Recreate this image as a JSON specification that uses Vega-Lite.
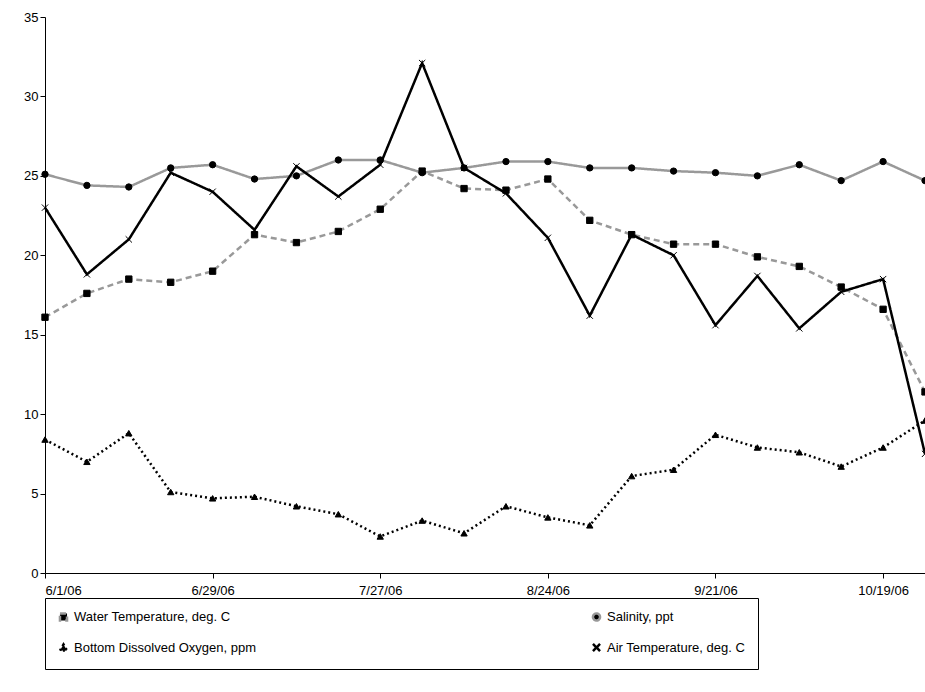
{
  "$schema": "https://vega.github.io/schema/vega-lite/v6.json",
  "width": 880,
  "height": 556,
  "autosize": "none",
  "padding": {"left": 45, "top": 17, "right": 0, "bottom": 119},
  "background": "white",
  "config": {"font": "Liberation Sans", "view": {"stroke": null}},
  "data": {"values": [
    {"date": "2006-06-01", "wt": 16.1, "sal": 25.1, "do": 8.4, "air": 23.0},
    {"date": "2006-06-08", "wt": 17.6, "sal": 24.4, "do": 7.0, "air": 18.8},
    {"date": "2006-06-15", "wt": 18.5, "sal": 24.3, "do": 8.8, "air": 21.0},
    {"date": "2006-06-22", "wt": 18.3, "sal": 25.5, "do": 5.1, "air": 25.2},
    {"date": "2006-06-29", "wt": 19.0, "sal": 25.7, "do": 4.7, "air": 24.0},
    {"date": "2006-07-06", "wt": 21.3, "sal": 24.8, "do": 4.8, "air": 21.6},
    {"date": "2006-07-13", "wt": 20.8, "sal": 25.0, "do": 4.2, "air": 25.6},
    {"date": "2006-07-20", "wt": 21.5, "sal": 26.0, "do": 3.7, "air": 23.7},
    {"date": "2006-07-27", "wt": 22.9, "sal": 26.0, "do": 2.3, "air": 25.7},
    {"date": "2006-08-03", "wt": 25.3, "sal": 25.2, "do": 3.3, "air": 32.1},
    {"date": "2006-08-10", "wt": 24.2, "sal": 25.5, "do": 2.5, "air": 25.5},
    {"date": "2006-08-17", "wt": 24.1, "sal": 25.9, "do": 4.2, "air": 23.9},
    {"date": "2006-08-24", "wt": 24.8, "sal": 25.9, "do": 3.5, "air": 21.1},
    {"date": "2006-08-31", "wt": 22.2, "sal": 25.5, "do": 3.0, "air": 16.2},
    {"date": "2006-09-07", "wt": 21.3, "sal": 25.5, "do": 6.1, "air": 21.3},
    {"date": "2006-09-14", "wt": 20.7, "sal": 25.3, "do": 6.5, "air": 20.0},
    {"date": "2006-09-21", "wt": 20.7, "sal": 25.2, "do": 8.7, "air": 15.6},
    {"date": "2006-09-28", "wt": 19.9, "sal": 25.0, "do": 7.9, "air": 18.7},
    {"date": "2006-10-05", "wt": 19.3, "sal": 25.7, "do": 7.6, "air": 15.4},
    {"date": "2006-10-12", "wt": 18.0, "sal": 24.7, "do": 6.7, "air": 17.7},
    {"date": "2006-10-19", "wt": 16.6, "sal": 25.9, "do": 7.9, "air": 18.5},
    {"date": "2006-10-26", "wt": 11.4, "sal": 24.7, "do": 9.6, "air": 7.5}
  ]},
  "transform": [
    {"fold": ["wt", "sal", "do", "air"], "as": ["key", "value"]},
    {"lookup": "key", "from": {"data": {"values": [
      {"key": "wt", "series": "Water Temperature, deg. C"},
      {"key": "sal", "series": "Salinity, ppt"},
      {"key": "do", "series": "Bottom Dissolved Oxygen, ppm"},
      {"key": "air", "series": "Air Temperature, deg. C"}
    ]}, "key": "key", "fields": ["series"]}}
  ],
  "encoding": {
    "x": {"field": "date", "type": "temporal", "scale": {"type": "utc", "domain": ["2006-06-01", "2006-10-26"]},
      "axis": {"title": null, "grid": false, "labelExpr": "utcFormat(datum.value, '%-m/%-d/%y')", "labelColor": "black", "labelFontSize": 13, "labelPadding": 6, "domainColor": "black", "tickColor": "black",
        "values": [{"year": 2006, "month": 6, "date": 1, "utc": true}, {"year": 2006, "month": 6, "date": 29, "utc": true}, {"year": 2006, "month": 7, "date": 27, "utc": true}, {"year": 2006, "month": 8, "date": 24, "utc": true}, {"year": 2006, "month": 9, "date": 21, "utc": true}, {"year": 2006, "month": 10, "date": 19, "utc": true}]}},
    "y": {"field": "value", "type": "quantitative", "scale": {"domain": [0, 35]},
      "axis": {"title": null, "grid": false, "tickCount": 7, "labelColor": "black", "labelFontSize": 13, "domainColor": "black", "tickColor": "black"}}
  },
  "layer": [
    {"mark": {"type": "line"},
      "encoding": {
        "color": {"field": "series", "type": "nominal", "scale": {"domain": ["Water Temperature, deg. C", "Salinity, ppt", "Bottom Dissolved Oxygen, ppm", "Air Temperature, deg. C"], "range": ["#999999", "#999999", "black", "black"]},
          "legend": {"title": null, "orient": "none", "legendX": 0, "legendY": 581, "columns": 2, "columnPadding": 330, "direction": "horizontal", "labelFontSize": 13, "labelLimit": 400, "labelColor": "black", "strokeColor": "black", "padding": 12, "symbolFillColor": "black", "symbolStrokeColor": "black", "symbolSize": 50, "rowPadding": 12, "offset": 0}},
        "strokeDash": {"field": "series", "type": "nominal", "scale": {"domain": ["Water Temperature, deg. C", "Salinity, ppt", "Bottom Dissolved Oxygen, ppm", "Air Temperature, deg. C"], "range": [[6, 4], [1, 0], [2, 3], [1, 0]]}, "legend": null},
        "strokeWidth": {"field": "series", "type": "nominal", "scale": {"domain": ["Water Temperature, deg. C", "Salinity, ppt", "Bottom Dissolved Oxygen, ppm", "Air Temperature, deg. C"], "range": [2.5, 2.5, 1.2, 1]}, "legend": null}
      }},
    {"mark": {"type": "point", "filled": true, "color": "black", "stroke": "black", "strokeWidth": 1, "opacity": 1},
      "encoding": {
        "shape": {"field": "series", "type": "nominal", "scale": {"domain": ["Water Temperature, deg. C", "Salinity, ppt", "Bottom Dissolved Oxygen, ppm", "Air Temperature, deg. C"], "range": ["square", "circle", "triangle-up", "M-1,-1L1,1M-1,1L1,-1"]},
          "legend": {"title": null, "orient": "none", "legendX": 0, "legendY": 581, "columns": 2, "columnPadding": 330, "direction": "horizontal", "labelFontSize": 13, "labelLimit": 400, "labelColor": "black", "strokeColor": "black", "padding": 12, "symbolFillColor": "black", "symbolStrokeColor": "black", "symbolSize": 50, "rowPadding": 12, "offset": 0}},
        "size": {"value": 40}
      }}
  ]
}
